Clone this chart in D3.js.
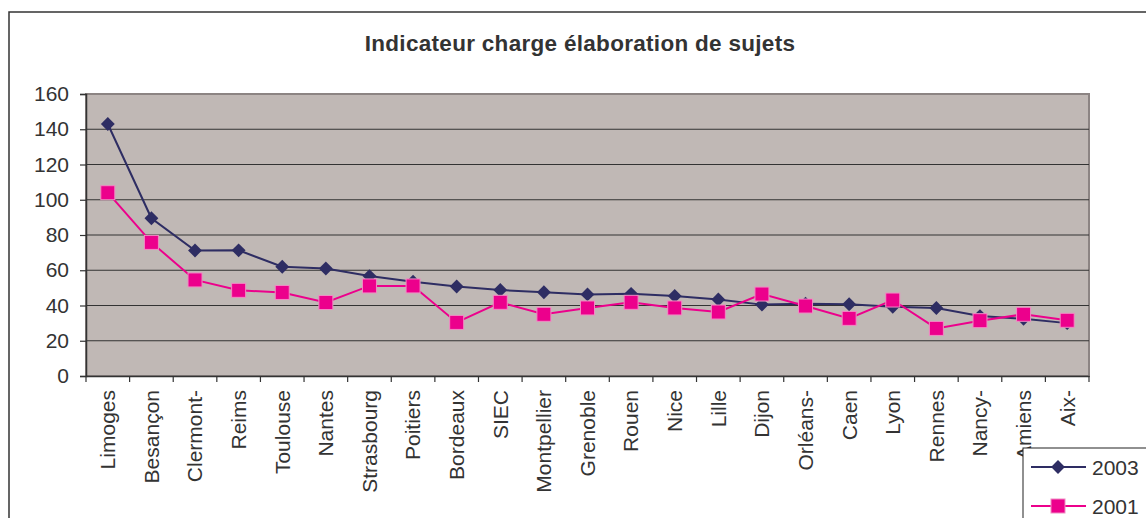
<!DOCTYPE html>
<html><head><meta charset="utf-8">
<script src="https://cdn.jsdelivr.net/npm/d3@7"></script>
<style>body{margin:0;background:#fff}svg{display:block}</style>
</head><body>
<svg id="c" width="1146" height="518"></svg>
<script>
const categories = ["Limoges","Besançon","Clermont-","Reims","Toulouse","Nantes","Strasbourg","Poitiers","Bordeaux","SIEC","Montpellier","Grenoble","Rouen","Nice","Lille","Dijon","Orléans-","Caen","Lyon","Rennes","Nancy-","Amiens","Aix-"];
const values2003 = [143,89.5,71.2,71.3,62,61,56.7,53.5,50.8,48.8,47.5,46.3,46.6,45.4,43.4,40.5,41,40.7,39.3,38.6,34,32.5,30];
const values2001 = [104,75.8,54.5,48.6,47.4,41.7,51.1,51.1,30.4,41.8,35,38.6,41.8,38.6,36.3,46.5,39.7,32.7,43.1,27,31.4,35,31.6];
const yTicks = [0,20,40,60,80,100,120,140,160];
const seriesNames = ["2003","2001"];

const svg = d3.select("#c");
const font = "Liberation Sans, Arial, sans-serif";
const L = 86, T = 94, R = 1089, B = 376;

const x = d3.scaleBand().domain(categories).range([L, R]);
const y = d3.scaleLinear().domain([0,160]).range([B, T]);

// outer border
svg.append("rect").attr("x",9).attr("y",12).attr("width",1300).attr("height",600)
  .attr("fill","#fff").attr("stroke","#333").attr("stroke-width",1.5);

// title
svg.append("text").attr("x",580).attr("y",51).attr("text-anchor","middle")
  .attr("font-family",font).attr("font-weight","bold").attr("font-size",22.5)
  .attr("letter-spacing","0.3px")
  .attr("fill","#333").text("Indicateur charge élaboration de sujets");

// plot area
svg.append("rect").attr("x",L).attr("y",T).attr("width",R-L).attr("height",B-T)
  .attr("fill","#c0b8b5").attr("stroke","#8c8483").attr("stroke-width",2);

// gridlines
svg.append("g").selectAll("line").data(yTicks.filter(d=>d>0 && d<160)).join("line")
  .attr("x1",L).attr("x2",R).attr("y1",d=>y(d)).attr("y2",d=>y(d))
  .attr("stroke","#333").attr("stroke-width",1);

// y axis
const ya = svg.append("g").attr("transform",`translate(${L},0)`)
  .call(d3.axisLeft(y).tickValues(yTicks).tickSize(6).tickPadding(11));
ya.select(".domain").attr("stroke","#333").attr("stroke-width",1.5);
ya.selectAll(".tick line").attr("stroke","#333").attr("stroke-width",1.2);
ya.selectAll("text").attr("font-family",font).attr("font-size",21).attr("fill","#333");

// x axis
const xa = svg.append("g").attr("transform",`translate(0,${B})`)
  .call(d3.axisBottom(x).tickSize(0).tickPadding(0));
xa.select(".domain").attr("stroke","#333").attr("stroke-width",1.5);
xa.selectAll(".tick text")
  .attr("font-family",font).attr("font-size",21).attr("fill","#333")
  .attr("transform","translate(0,14) rotate(-90)")
  .attr("text-anchor","end").attr("dy","0.35em").attr("y",0).attr("x",0);
// band boundary ticks
const bounds = categories.map(c=>x(c)).concat([R]);
svg.append("g").selectAll("line").data(bounds).join("line")
  .attr("x1",d=>d).attr("x2",d=>d).attr("y1",B).attr("y2",B+6)
  .attr("stroke","#333").attr("stroke-width",1.2);

const cx = c => x(c) + x.bandwidth()/2;
const line = d3.line().x((d,i)=>cx(categories[i])).y(d=>y(d));

const c03 = "#2e2d63", c01 = "#ec008c";
svg.append("path").datum(values2003).attr("d",line).attr("fill","none").attr("stroke",c03).attr("stroke-width",2);
svg.append("path").datum(values2001).attr("d",line).attr("fill","none").attr("stroke",c01).attr("stroke-width",2);

const diamond = d3.symbol().type(d3.symbolSquare).size(96);
svg.append("g").selectAll("path").data(values2003).join("path")
  .attr("d",diamond())
  .attr("transform",(d,i)=>`translate(${cx(categories[i])},${y(d)}) rotate(45)`)
  .attr("fill",c03);
svg.append("g").selectAll("rect").data(values2001).join("rect")
  .attr("x",(d,i)=>cx(categories[i])-7).attr("y",d=>y(d)-7)
  .attr("width",14).attr("height",14)
  .attr("fill",c01).attr("stroke","#f08cc4").attr("stroke-width",1);

// legend
svg.append("rect").attr("x",1023).attr("y",448).attr("width",200).attr("height",100)
  .attr("fill","#fff").attr("stroke","#222").attr("stroke-width",1);
const lg = svg.append("g");
const ly = [467, 506];
seriesNames.forEach((n,i)=>{
  const col = i===0?c03:c01;
  lg.append("line").attr("x1",1031).attr("x2",1086).attr("y1",ly[i]).attr("y2",ly[i]).attr("stroke",col).attr("stroke-width",2);
  if(i===0){
    lg.append("path").attr("d",diamond()).attr("transform",`translate(1058,${ly[i]}) rotate(45)`).attr("fill",col);
  } else {
    lg.append("rect").attr("x",1051).attr("y",ly[i]-7).attr("width",14).attr("height",14).attr("fill",col).attr("stroke","#f08cc4");
  }
  lg.append("text").attr("x",1092).attr("y",ly[i]).attr("dy","0.36em")
    .attr("font-family",font).attr("font-size",21).attr("fill","#333").text(n);
});
</script>
</body></html>
